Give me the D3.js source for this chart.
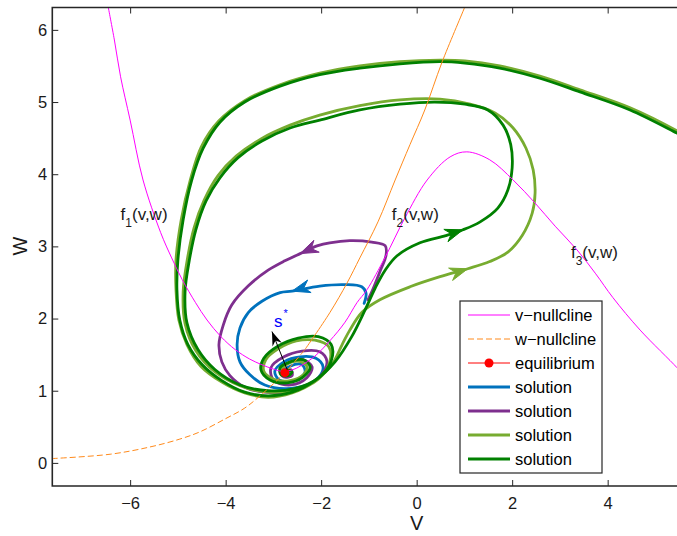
<!DOCTYPE html>
<html>
<head>
<meta charset="utf-8">
<script src="https://cdn.jsdelivr.net/npm/d3@7"></script>
<style>
  html, body { margin: 0; padding: 0; background: #fff; }
  svg { display: block; font-family: "Liberation Sans", Arial, Helvetica, sans-serif; }
</style>
</head>
<body>
<svg id="chart" width="677" height="536"></svg>
<script>
// ---- axis ticks ----
const xTicks = [-6, -4, -2, 0, 2, 4];
const yTicks = [0, 1, 2, 3, 4, 5, 6];

// ---- nullclines, [v, w] ----
const vNullcline = [
  [-6.46,6.32],[-6.33,5.86],[-6.20,5.35],[-6.00,4.75],[-5.73,3.92],[-5.36,3.19],[-5.13,2.84],
  [-4.91,2.54],[-4.63,2.22],[-4.39,1.98],[-4.10,1.75],[-3.80,1.57],[-3.50,1.44],[-3.24,1.36],
  [-3.00,1.30],[-2.82,1.27],[-2.60,1.29],[-2.44,1.34],[-2.13,1.48],[-1.82,1.69],[-1.50,1.95],
  [-1.25,2.22],[-1.04,2.40],[-0.66,2.85],[-0.25,3.39],[0.22,3.92],[0.70,4.24],[1.05,4.31],
  [1.53,4.20],[2.02,3.92],[2.48,3.60],[2.90,3.28],[3.36,2.95],[3.75,2.62],[4.11,2.29],
  [4.68,1.84],[5.45,1.32],[5.55,1.24]
];
const wNullcline = [
  [-7.64,0.06],[-6.42,0.12],[-5.59,0.22],[-4.96,0.33],[-4.54,0.43],[-4.01,0.61],[-3.60,0.76],
  [-3.28,0.93],[-2.76,1.25],[-2.34,1.57],[-1.82,2.08],[-1.46,2.49],[-1.19,2.84],[-0.81,3.34],
  [-0.45,3.92],[-0.14,4.41],[0.17,4.89],[0.53,5.55],[1.01,6.32],[1.07,6.42]
];

// ---- equilibrium s* ----
const equilibrium = [-2.76, 1.25];

// ---- solutions, [v, w] ----
const solBlue = [
  [-1.10,2.21],[-1.06,2.35],[-1.15,2.44],[-1.50,2.47],[-2.03,2.45],[-2.61,2.38],[-2.86,2.36],
  [-3.24,2.24],[-3.53,2.08],[-3.70,1.87],[-3.76,1.64],[-3.70,1.40],[-3.49,1.22],[-3.18,1.08],
  [-2.76,1.03],[-2.34,1.07],[-2.06,1.18],[-1.96,1.33],[-2.11,1.45],[-2.44,1.47],[-2.78,1.40],
  [-2.97,1.27],[-2.88,1.15],[-2.57,1.14],[-2.34,1.25],[-2.40,1.36],[-2.65,1.34],[-2.80,1.26],
  [-2.74,1.22],[-2.67,1.26],[-2.76,1.25]
];
const solPurple = [
  [-1.02,2.26],[-0.94,2.37],[-0.77,2.65],[-0.64,2.88],[-0.66,3.01],[-0.94,3.06],[-1.40,3.08],
  [-1.82,3.05],[-2.07,3.01],[-2.44,2.90],[-2.76,2.80],[-3.11,2.67],[-3.53,2.45],[-3.87,2.19],
  [-4.05,1.91],[-4.14,1.64],[-4.08,1.40],[-3.91,1.21],[-3.60,1.05],[-3.18,0.98],[-2.72,0.98],
  [-2.30,1.07],[-1.98,1.23],[-1.88,1.41],[-2.03,1.54],[-2.40,1.55],[-2.78,1.47],[-3.05,1.32],
  [-2.99,1.14],[-2.63,1.08],[-2.30,1.18],[-2.19,1.33],[-2.38,1.43],[-2.67,1.39],[-2.86,1.27],
  [-2.78,1.19],[-2.61,1.21],[-2.63,1.29],[-2.76,1.25]
];
const solLightGreen = [
  [5.60,4.54],[5.45,4.60],[4.47,4.92],[3.42,5.17],[2.58,5.36],[1.74,5.50],[1.01,5.57],[0.49,5.58],
  [-0.35,5.56],[-1.19,5.50],[-2.03,5.40],[-2.86,5.24],[-3.60,5.02],[-4.14,4.74],[-4.51,4.38],
  [-4.74,3.92],[-4.93,3.37],[-5.04,2.81],[-5.04,2.40],[-4.98,1.98],[-4.81,1.64],[-4.52,1.34],
  [-4.08,1.12],[-3.60,0.97],[-3.11,0.91],[-2.61,0.97],[-2.15,1.12],[-1.77,1.37],[-1.56,1.64],
  [-1.40,1.84],[-1.14,2.09],[-0.77,2.26],[-0.14,2.44],[0.49,2.58],[1.07,2.69],[1.53,2.79],
  [1.91,2.92],[2.21,3.15],[2.42,3.46],[2.48,3.74],[2.44,4.06],[2.29,4.36],[2.02,4.64],[1.64,4.85],
  [1.12,4.97],[0.49,5.04],[-0.35,5.03],[-1.19,4.95],[-2.03,4.82],[-2.65,4.68],[-3.26,4.49],
  [-3.78,4.25],[-4.16,3.98],[-4.45,3.64],[-4.66,3.26],[-4.80,2.83],[-4.89,2.37],[-4.85,1.93],
  [-4.62,1.55],[-4.24,1.27],[-3.70,1.07],[-3.11,0.98],[-2.55,1.01],[-2.06,1.16],[-1.82,1.40],
  [-1.84,1.61],[-2.13,1.70],[-2.52,1.69],[-2.90,1.58],[-3.16,1.43],[-3.20,1.27],[-2.99,1.16],
  [-2.65,1.14],[-2.36,1.23],[-2.30,1.34],[-2.48,1.41],[-2.73,1.36],[-2.82,1.27],[-2.74,1.22],
  [-2.76,1.25]
];
const solDarkGreen = [
  [5.60,4.52],[5.45,4.57],[4.47,4.89],[3.42,5.14],[2.58,5.33],[1.74,5.47],[1.01,5.54],[0.49,5.56],
  [-0.35,5.53],[-1.19,5.47],[-2.03,5.38],[-2.86,5.22],[-3.60,5.00],[-4.12,4.72],[-4.47,4.36],
  [-4.71,3.92],[-4.89,3.37],[-5.00,2.81],[-5.02,2.40],[-4.96,1.98],[-4.79,1.64],[-4.49,1.36],
  [-4.08,1.14],[-3.60,0.98],[-3.11,0.93],[-2.61,0.98],[-2.13,1.14],[-1.71,1.40],[-1.36,1.75],
  [-1.08,2.12],[-0.87,2.42],[-0.66,2.67],[-0.41,2.87],[0.07,3.05],[0.61,3.15],[0.97,3.23],
  [1.33,3.34],[1.70,3.53],[1.91,3.78],[2.00,4.09],[1.97,4.41],[1.81,4.68],[1.49,4.89],[1.01,4.97],
  [0.38,5.00],[-0.35,4.97],[-1.19,4.89],[-2.03,4.75],[-2.65,4.64],[-3.24,4.46],[-3.74,4.23],
  [-4.12,3.95],[-4.41,3.63],[-4.62,3.24],[-4.76,2.81],[-4.85,2.37],[-4.81,1.94],[-4.58,1.57],
  [-4.22,1.29],[-3.70,1.08],[-3.11,1.00],[-2.55,1.03],[-2.06,1.18],[-1.79,1.41],[-1.79,1.64],
  [-2.06,1.75],[-2.48,1.73],[-2.90,1.62],[-3.20,1.45],[-3.26,1.29],[-3.07,1.15],[-2.71,1.11],
  [-2.38,1.19],[-2.23,1.33],[-2.38,1.43],[-2.65,1.40],[-2.86,1.32],[-2.84,1.22],[-2.69,1.21],
  [-2.61,1.26],[-2.71,1.29],[-2.76,1.25]
];

// direction arrows on each solution: [tip, tail]
const arrowBlue = [[-2.61,2.38],[-2.23,2.45]];
const arrowPurple = [[-2.44,2.90],[-2.07,3.01]];
const arrowLightGreen = [[1.07,2.69],[0.74,2.62]];
const arrowDarkGreen = [[0.97,3.23],[0.61,3.15]];

// pointer to s*: [tip, tail]
const starArrow = [[-3.03,1.82],[-2.71,1.29]];

// ---- legend ----
const legendLabels = ["v\u2212nullcline", "w\u2212nullcline", "equilibrium",
                      "solution", "solution", "solution", "solution"];

// ---- colours ----
const C = {
  vnull: "#ff00ff", wnull: "#ff8a1c", eq: "#ff0000",
  blue: "#0072bd", purple: "#7e2f8e", lgreen: "#77ac30", dgreen: "#008000",
  axis: "#262626"
};

const svg = d3.select("#chart");
const P = { left: 52.3, right: 679.3, top: 7.5, bottom: 486 };

const x = d3.scaleLinear().domain([-7.63, 5.5]).range([P.left, P.right]);
const y = d3.scaleLinear().domain([-0.32, 6.31]).range([P.bottom, P.top]);

svg.append("defs").append("clipPath").attr("id", "plotclip")
  .append("rect").attr("x", P.left).attr("y", P.top)
  .attr("width", P.right - P.left).attr("height", P.bottom - P.top);

const smooth = d3.line().x(d => x(d[0])).y(d => y(d[1])).curve(d3.curveCatmullRom.alpha(0.5));

const plotG = svg.append("g").attr("clip-path", "url(#plotclip)");

// solutions
const solutions = [
  { pts: solBlue, color: C.blue, arrow: arrowBlue },
  { pts: solPurple, color: C.purple, arrow: arrowPurple },
  { pts: solLightGreen, color: C.lgreen, arrow: arrowLightGreen },
  { pts: solDarkGreen, color: C.dgreen, arrow: arrowDarkGreen }
];

function arrowHead(tip, tail, L, Wd) {
  const tx = x(tip[0]), ty = y(tip[1]);
  const bx = x(tail[0]), by = y(tail[1]);
  let ux = tx - bx, uy = ty - by;
  const n = Math.hypot(ux, uy); ux /= n; uy /= n;
  const nx = -uy, ny = ux;
  const p1 = [tx - L * ux + Wd / 2 * nx, ty - L * uy + Wd / 2 * ny];
  const p2 = [tx - 0.68 * L * ux, ty - 0.68 * L * uy];
  const p3 = [tx - L * ux - Wd / 2 * nx, ty - L * uy - Wd / 2 * ny];
  return `M${tx},${ty}L${p1[0]},${p1[1]}L${p2[0]},${p2[1]}L${p3[0]},${p3[1]}Z`;
}

solutions.forEach(s => {
  plotG.append("path").attr("d", smooth(s.pts))
    .attr("fill", "none").attr("stroke", s.color).attr("stroke-width", 2.8)
    .attr("stroke-linejoin", "round").attr("stroke-linecap", "round");
});
solutions.forEach(s => {
  plotG.append("path").attr("d", arrowHead(s.arrow[0], s.arrow[1], 18, 13))
    .attr("fill", s.color).attr("stroke", s.color).attr("stroke-width", 1)
    .attr("stroke-linejoin", "round");
});

// nullclines
plotG.append("path").attr("d", smooth(vNullcline))
  .attr("fill", "none").attr("stroke", C.vnull).attr("stroke-width", 1);
const k = wNullcline.findIndex(d => d[0] > -2.4);
plotG.append("path").attr("d", smooth(wNullcline.slice(0, k + 1)))
  .attr("fill", "none").attr("stroke", C.wnull).attr("stroke-width", 1)
  .attr("stroke-dasharray", "6,3");
plotG.append("path").attr("d", smooth(wNullcline.slice(k)))
  .attr("fill", "none").attr("stroke", C.wnull).attr("stroke-width", 1);

// equilibrium and its pointer
plotG.append("circle").attr("cx", x(equilibrium[0])).attr("cy", y(equilibrium[1]))
  .attr("r", 4.5).attr("fill", C.eq);
plotG.append("line")
  .attr("x1", x(starArrow[1][0])).attr("y1", y(starArrow[1][1]))
  .attr("x2", x(starArrow[0][0])).attr("y2", y(starArrow[0][1]))
  .attr("stroke", "#000").attr("stroke-width", 1);
plotG.append("path").attr("d", arrowHead(starArrow[0], starArrow[1], 14, 10)).attr("fill", "#000");

// annotations
const sLabel = svg.append("text").attr("x", x(-2.99)).attr("y", y(1.88))
  .attr("fill", "#0000ff").attr("font-size", 17);
sLabel.append("tspan").text("s");
sLabel.append("tspan").attr("dy", -10).attr("dx", 1).attr("font-size", 11).text("*");

function fLabel(v, w, sub) {
  const t = svg.append("text").attr("x", x(v)).attr("y", y(w))
    .attr("fill", "#1a1a1a").attr("font-size", 17);
  t.append("tspan").text("f");
  t.append("tspan").attr("dy", 7).attr("font-size", 12).text(sub);
  t.append("tspan").attr("dy", -7).text("(v,w)");
}
fLabel(-6.20, 3.37, "1");
fLabel(-0.52, 3.37, "2");
fLabel(3.23, 2.84, "3");

// axes
const fmt = d3.format("d");
const xAxis = d3.axisBottom(x).tickValues(xTicks).tickFormat(fmt)
  .tickSizeInner(-6).tickSizeOuter(0).tickPadding(11);
const yAxis = d3.axisLeft(y).tickValues(yTicks).tickFormat(fmt)
  .tickSizeInner(-6).tickSizeOuter(0).tickPadding(5);
const xTop = d3.axisTop(x).tickValues(xTicks).tickSizeInner(-6).tickSizeOuter(0).tickFormat("");

function styleAxis(g) {
  g.select(".domain").remove();
  g.selectAll(".tick line").attr("stroke", C.axis).attr("stroke-width", 1);
  g.selectAll(".tick text").attr("fill", "#1a1a1a").attr("font-size", 16.5)
    .attr("font-family", "Liberation Sans, Arial, sans-serif");
}
svg.append("g").attr("transform", `translate(0,${P.bottom})`).call(xAxis).call(styleAxis);
svg.append("g").attr("transform", `translate(${P.left},0)`).call(yAxis).call(styleAxis);
svg.append("g").attr("transform", `translate(0,${P.top})`).call(xTop).call(styleAxis);

// frame
svg.append("path")
  .attr("d", `M${P.right},${P.top}H${P.left}V${P.bottom}H${P.right}`)
  .attr("fill", "none").attr("stroke", C.axis).attr("stroke-width", 1.6);

// axis titles
svg.append("text").attr("x", x(0)).attr("y", 530).attr("text-anchor", "middle")
  .attr("font-size", 20).attr("fill", "#1a1a1a").text("V");
svg.append("text").attr("transform", "translate(27,246) rotate(-90)")
  .attr("text-anchor", "middle").attr("font-size", 20).attr("fill", "#1a1a1a").text("W");

// legend
const L = { x: 460, y: 301, w: 142, h: 172, row0: 315, step: 24 };
const lg = svg.append("g");
lg.append("rect").attr("x", L.x).attr("y", L.y).attr("width", L.w).attr("height", L.h)
  .attr("fill", "#fff").attr("stroke", C.axis).attr("stroke-width", 1.2);
const legendStyle = [
  { color: C.vnull, width: 1 },
  { color: C.wnull, width: 1, dash: "6,3" },
  { color: C.eq, width: 1, marker: true },
  { color: C.blue, width: 2.8 },
  { color: C.purple, width: 2.8 },
  { color: C.lgreen, width: 2.8 },
  { color: C.dgreen, width: 2.8 }
];
legendLabels.forEach((label, i) => {
  const st = legendStyle[i];
  const yy = L.row0 + i * L.step;
  const ln = lg.append("line").attr("x1", 468).attr("x2", 510).attr("y1", yy).attr("y2", yy)
    .attr("stroke", st.color).attr("stroke-width", st.width);
  if (st.dash) ln.attr("stroke-dasharray", st.dash);
  if (st.marker) lg.append("circle").attr("cx", 489).attr("cy", yy).attr("r", 4.5).attr("fill", st.color);
  lg.append("text").attr("x", 515).attr("y", yy).attr("dy", "0.35em")
    .attr("font-size", 16.5).attr("fill", "#000").text(label);
});
</script>
</body>
</html>
